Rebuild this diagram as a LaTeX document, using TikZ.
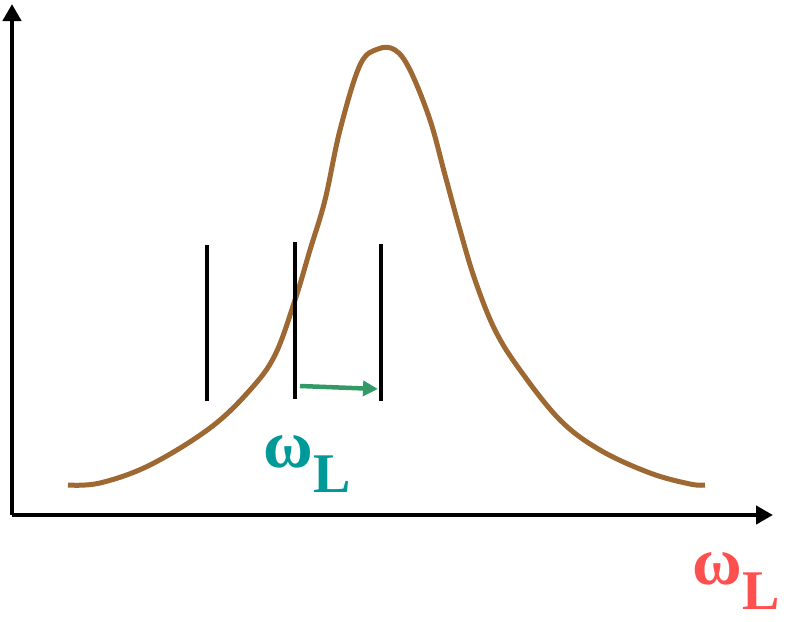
\documentclass[tikz,border=0pt]{standalone}
\usepackage{fontspec}
\setmainfont{Liberation Serif}
\usetikzlibrary{arrows.meta,positioning}
\definecolor{curvebrown}{RGB}{158,104,51}
\definecolor{shiftgreen}{RGB}{51,153,102}
\definecolor{tealtext}{RGB}{0,153,153}
\definecolor{redtext}{RGB}{255,80,80}
\tikzset{
  axis/.style={line width=4.8pt,-{Triangle[length=17pt,width=18pt]}},
  bar/.style={line width=4.8pt},
  omegalabel/.style={anchor=base west,inner sep=0pt,font=\bfseries\fontsize{68}{68}\selectfont}
}
\newcommand{\omegaL}{ω\kern1pt\raisebox{-0.38em}{\fontsize{56}{56}\selectfont L}}

\begin{document}
\begin{tikzpicture}[x=1pt,y=-1pt]
    \useasboundingbox (0,0) rectangle (789,621);
    % axes
    \coordinate (O) at (12,515);
    \coordinate (Ytop) at (12,4);
    \coordinate (Xend) at (773,515);
    \draw[axis] (O) -- (Ytop);
    \draw[axis] (O) -- (Xend);

    % resonance curve
    \draw[curvebrown,line width=5pt,line join=round] plot[smooth,tension=0.6] coordinates {
      (68,485) (100,483) (150,465) (210,428) (250,390) (275,355) (295,300)
      (310,250) (325,200) (340,130) (360,65) (378,49) (395,50) (410,70)
      (430,120) (445,175) (460,230) (475,280) (495,330) (520,370) (560,420)
      (600,450) (650,473) (690,484) (705,485)};

    % bars
    \coordinate (b1top) at (207,245);
    \coordinate (b1bot) at (207,401);
    \coordinate (b2top) at (295,242);
    \coordinate (b2bot) at (295,399);
    \coordinate (b3top) at (381,244);
    \coordinate (b3bot) at (381,401);
    \draw[bar] (b1top) -- (b1bot);
    \draw[bar] (b2top) -- (b2bot);
    \draw[bar] (b3top) -- (b3bot);

    % shift
    \coordinate (s1) at (300,386);
    \coordinate (s2) at (378,389);
    \draw[shiftgreen,line width=4.5pt,-{Triangle[length=15pt,width=15pt]}] (s1) -- (s2);

    \node[omegalabel,text=tealtext] (wl) at (263,467) {\omegaL};
    \node[omegalabel,text=redtext] (wlaxis) at (692,584) {\omegaL};
\end{tikzpicture}
\end{document}
